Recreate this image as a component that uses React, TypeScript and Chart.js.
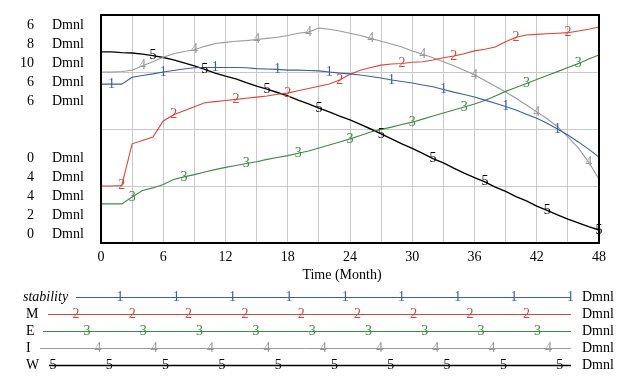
import React, { useEffect, useRef } from 'react';
import { Chart, registerables } from 'chart.js';

Chart.register(...registerables);

// ---------- data ----------
const months = [
  0, 1, 2, 3, 4, 5, 6, 7, 8, 9, 10, 11, 12, 13, 14, 15, 16, 17, 18, 19, 20, 21, 22, 23, 24,
  25, 26, 27, 28, 29, 30, 31, 32, 33, 34, 35, 36, 37, 38, 39, 40, 41, 42, 43, 44, 45, 46, 47, 48,
];

const seriesNames = ['stability', 'M', 'E', 'I', 'W'];
const seriesDigits = ['1', '2', '3', '4', '5'];
const seriesColors = ['#3b5ea3', '#d8463a', '#3d8a45', '#9a9a9a', '#000000'];
const scaleMax = [6, 8, 10, 6, 6];
const scaleMin = [0, 4, 4, 2, 0];
const unitLabel = 'Dmnl';
const xTitle = 'Time (Month)';

const stability = [
  4.18, 4.18, 4.18, 4.36, 4.41, 4.45, 4.5, 4.54, 4.58, 4.61, 4.62, 4.62, 4.62, 4.62, 4.61, 4.59,
  4.58, 4.57, 4.55, 4.55, 4.54, 4.53, 4.5, 4.47, 4.45, 4.42, 4.38, 4.34, 4.29, 4.25, 4.21, 4.16,
  4.11, 4.04, 3.97, 3.91, 3.84, 3.76, 3.68, 3.59, 3.5, 3.39, 3.28, 3.15, 3.0, 2.84, 2.66, 2.47, 2.26,
];
const M = [
  5.0, 5.0, 5.01, 5.74, 5.8, 5.86, 6.14, 6.25, 6.32, 6.39, 6.46, 6.48, 6.5, 6.52, 6.54, 6.56,
  6.58, 6.61, 6.63, 6.67, 6.71, 6.75, 6.79, 6.86, 6.96, 7.03, 7.08, 7.12, 7.14, 7.15, 7.17, 7.18,
  7.21, 7.25, 7.28, 7.32, 7.37, 7.4, 7.44, 7.53, 7.61, 7.65, 7.66, 7.67, 7.68, 7.69, 7.72, 7.75, 7.79,
];
const E = [
  5.03, 5.03, 5.03, 5.21, 5.38, 5.45, 5.54, 5.67, 5.74, 5.8, 5.87, 5.93, 5.99, 6.04, 6.09, 6.14,
  6.2, 6.25, 6.3, 6.36, 6.42, 6.5, 6.58, 6.66, 6.74, 6.83, 6.92, 6.99, 7.05, 7.12, 7.18, 7.26,
  7.34, 7.42, 7.5, 7.58, 7.66, 7.75, 7.87, 7.99, 8.09, 8.2, 8.3, 8.41, 8.51, 8.62, 8.72, 8.84, 8.95,
];
const I = [
  5.0, 5.0, 5.01, 5.03, 5.11, 5.18, 5.26, 5.32, 5.36, 5.39, 5.45, 5.5, 5.52, 5.54, 5.55, 5.57,
  5.59, 5.61, 5.64, 5.68, 5.7, 5.77, 5.75, 5.72, 5.68, 5.64, 5.59, 5.54, 5.49, 5.44, 5.37, 5.31,
  5.25, 5.18, 5.11, 5.03, 4.95, 4.85, 4.75, 4.65, 4.54, 4.42, 4.3, 4.18, 4.04, 3.86, 3.67, 3.42, 3.12,
];
const W = [
  5.03, 5.03, 5.01, 5.0, 4.97, 4.93, 4.88, 4.82, 4.74, 4.66, 4.57, 4.47, 4.39, 4.32, 4.22, 4.13,
  4.05, 3.96, 3.87, 3.76, 3.66, 3.55, 3.45, 3.34, 3.24, 3.12, 3.0, 2.87, 2.74, 2.61, 2.49, 2.36,
  2.22, 2.11, 1.97, 1.84, 1.72, 1.61, 1.47, 1.36, 1.22, 1.11, 0.97, 0.86, 0.74, 0.63, 0.53, 0.43, 0.34,
];
const seriesValues = [stability, M, E, I, W];

const markerMonths = [
  [1, 6, 11, 17, 22, 28, 33, 39, 44],
  [2, 7, 13, 18, 23, 29, 34, 40, 45],
  [3, 8, 14, 19, 24, 30, 35, 41, 46],
  [4, 9, 15, 20, 26, 31, 36, 42, 47],
  [5, 10, 16, 21, 27, 32, 37, 43, 48],
];

// ---------- layout (styles only) ----------
const W_PX = 634;
const H_PX = 378;
const FONT = '"Liberation Serif", "Times New Roman", serif';
const legendLineStart = [76, 48, 43, 40, 49];
const legendMarkerStart = [120, 76, 87, 98, 53];
const legendLineWidth = [1, 1, 1, 1, 1.6];

const overlayPlugin = {
  id: 'vensimOverlay',
  afterDatasetsDraw(chart: any) {
    const ctx = chart.ctx as CanvasRenderingContext2D;
    const a = chart.chartArea;
    ctx.save();

    // frame
    ctx.strokeStyle = '#000';
    ctx.lineWidth = 2;
    ctx.strokeRect(a.left, a.top, a.right - a.left, a.bottom - a.top);

    // series markers (digits on the lines)
    ctx.font = `14px ${FONT}`;
    ctx.textAlign = 'center';
    ctx.textBaseline = 'middle';
    seriesValues.forEach((_, i) => {
      const meta = chart.getDatasetMeta(i);
      ctx.fillStyle = seriesColors[i];
      markerMonths[i].forEach((m) => {
        const p = meta.data[months.indexOf(m)];
        if (p) ctx.fillText(seriesDigits[i], p.x, p.y);
      });
    });

    // stacked scale labels on the left
    ctx.font = `14px ${FONT}`;
    ctx.fillStyle = '#000';
    seriesValues.forEach((_, i) => {
      const yTop = 25 + 19 * i;
      const yBot = 158 + 19 * i;
      ctx.textAlign = 'right';
      ctx.fillText(String(scaleMax[i]), 34, yTop);
      ctx.fillText(String(scaleMin[i]), 34, yBot);
      ctx.textAlign = 'left';
      ctx.fillText(unitLabel, 52, yTop);
      ctx.fillText(unitLabel, 52, yBot);
    });

    // x title
    ctx.textAlign = 'center';
    ctx.fillText(xTitle, 342, 275);

    // legend
    seriesNames.forEach((name, i) => {
      const y = 297 + 17 * i;
      ctx.fillStyle = '#000';
      ctx.textAlign = 'left';
      ctx.font = i === 0 ? `italic 14px ${FONT}` : `14px ${FONT}`;
      ctx.fillText(name, i === 0 ? 23 : 26, y);
      ctx.strokeStyle = seriesColors[i];
      ctx.lineWidth = legendLineWidth[i];
      ctx.beginPath();
      ctx.moveTo(legendLineStart[i], Math.round(y) + 0.5);
      ctx.lineTo(571, Math.round(y) + 0.5);
      ctx.stroke();
      ctx.font = `14px ${FONT}`;
      ctx.textAlign = 'center';
      ctx.fillStyle = seriesColors[i];
      for (let x = legendMarkerStart[i]; x <= 573; x += 56.3) {
        ctx.fillText(seriesDigits[i], x, y);
      }
      ctx.fillStyle = '#000';
      ctx.textAlign = 'left';
      ctx.fillText(unitLabel, 582, y);
    });

    ctx.restore();
  },
};

export default function App() {
  const canvasRef = useRef<HTMLCanvasElement | null>(null);

  useEffect(() => {
    if (!canvasRef.current) return;
    const datasets = seriesValues.map((vals, i) => ({
      label: seriesNames[i],
      data: months.map((m, k) => ({ x: m, y: vals[k] })),
      borderColor: seriesColors[i],
      backgroundColor: seriesColors[i],
      borderWidth: i === 4 ? 1.4 : 1.1,
      pointRadius: 0,
      tension: 0,
      fill: false,
      yAxisID: 'y' + (i + 1),
    }));

    const yScales: any = {};
    seriesValues.forEach((_, i) => {
      yScales['y' + (i + 1)] =
        i === 0
          ? {
              type: 'linear',
              position: 'left',
              min: scaleMin[i],
              max: scaleMax[i],
              ticks: { display: false, stepSize: (scaleMax[i] - scaleMin[i]) / 4 },
              grid: { color: '#c8c8c8', drawTicks: false, lineWidth: 1 },
              border: { display: false },
              afterFit: (s: any) => {
                s.width = 0;
              },
            }
          : { type: 'linear', display: false, min: scaleMin[i], max: scaleMax[i] };
    });

    const chart = new Chart(canvasRef.current, {
      type: 'line',
      data: { datasets },
      options: {
        responsive: false,
        animation: false,
        devicePixelRatio: 1,
        layout: { padding: { left: 101, right: 35, top: 15, bottom: 0 } },
        plugins: { legend: { display: false }, tooltip: { enabled: false } },
        scales: {
          x: {
            type: 'linear',
            min: 0,
            max: 48,
            ticks: {
              stepSize: 3,
              autoSkip: false,
              maxRotation: 0,
              color: '#000',
              padding: 6,
              font: { family: FONT, size: 14 },
              callback: (v: any) => (Number(v) % 6 === 0 ? String(v) : ''),
            },
            grid: { color: '#c8c8c8', drawTicks: false, lineWidth: 1 },
            border: { display: false },
            afterFit: (s: any) => {
              s.height = 135;
            },
          },
          ...yScales,
        },
      } as any,
      plugins: [overlayPlugin],
    });
    return () => chart.destroy();
  }, []);

  return (
    <div style={{ position: 'absolute', left: 0, top: 0, width: W_PX, height: H_PX, background: '#fff' }}>
      <canvas ref={canvasRef} width={W_PX} height={H_PX} style={{ display: 'block' }} />
    </div>
  );
}
